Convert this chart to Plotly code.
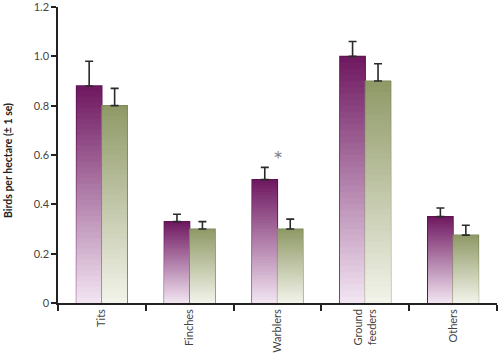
import plotly.graph_objects as go

categories = ["Tits", "Finches", "Warblers", "Ground<br>feeders", "Others"]
purple_values = [0.88, 0.33, 0.50, 1.00, 0.35]
purple_errors = [0.10, 0.03, 0.05, 0.06, 0.035]
green_values = [0.80, 0.30, 0.30, 0.90, 0.275]
green_errors = [0.07, 0.03, 0.04, 0.07, 0.04]
y_ticks = [0, 0.2, 0.4, 0.6, 0.8, 1.0, 1.2]
y_ticktext = ["0", "0.2", "0.4", "0.6", "0.8", "1.0", "1.2"]
y_title = "Birds per hectare (± 1 se)"

N_BANDS = 40
BAR_W = 0.29


def lerp(c1, c2, t):
    return "rgb(%d,%d,%d)" % tuple(round(a + (b - a) * t) for a, b in zip(c1, c2))


def add_gradient_bars(fig, values, errors, offset, dark, light, edge):
    fig.add_trace(go.Bar(
        x=categories, y=values, offset=offset, width=BAR_W,
        marker=dict(color=lerp(dark, light, 0.0), line=dict(color=edge, width=1.2)),
        error_y=dict(type="data", symmetric=False, array=errors,
                     arrayminus=[0] * len(errors), color="#2a2a2a",
                     thickness=1.6, width=4),
        hoverinfo="skip", showlegend=False,
    ))
    for k in range(N_BANDS - 1, 0, -1):
        frac = k / N_BANDS
        t = 1 - frac
        fig.add_trace(go.Bar(
            x=categories, y=[v * frac for v in values], offset=offset + 0.005,
            width=BAR_W - 0.01,
            marker=dict(color=lerp(dark, light, t), line=dict(width=0)),
            hoverinfo="skip", showlegend=False,
        ))


fig = go.Figure()
add_gradient_bars(fig, purple_values, purple_errors, -BAR_W,
                  (112, 26, 98), (244, 232, 244), "#5e1552")
add_gradient_bars(fig, green_values, green_errors, 0.0,
                  (144, 154, 104), (244, 245, 236), "#7f8a5a")

fig.add_annotation(x="Warblers", y=0.585, text="*", showarrow=False,
                   font=dict(size=24, color="#888888"), xanchor="center",
                   yanchor="middle")

fig.add_annotation(xref="paper", yref="paper", x=-0.114, y=0.483,
                   text="<b>" + y_title + "</b>", textangle=-90, showarrow=False,
                   xanchor="center", yanchor="middle",
                   font=dict(size=10.5, color="#222222"))

fig.update_layout(
    width=500, height=358,
    margin=dict(l=58, r=3, t=7, b=55),
    paper_bgcolor="white", plot_bgcolor="white",
    barmode="overlay",
    font=dict(family="Lato, Open Sans, sans-serif", color="#444444"),
    xaxis=dict(
        automargin=False,
        showline=True, linecolor="#222222", linewidth=1.5,
        ticks="outside", tickson="boundaries", ticklen=6, tickwidth=1.5,
        tickcolor="#222222", tickangle=-90, tickfont=dict(size=11, color="#444444"),
        showgrid=False, zeroline=False,
    ),
    yaxis=dict(
        automargin=False, ticklabeloverflow="allow",
        range=[0, 1.2], tickvals=y_ticks, ticktext=y_ticktext,
        showline=True, linecolor="#222222", linewidth=1.5,
        ticks="outside", ticklen=5, tickwidth=1.5, tickcolor="#222222",
        tickfont=dict(size=11, color="#444444"),
        showgrid=False, zeroline=False,
    ),
)

fig.write_html("out.html", config={"displayModeBar": False},
               post_script="document.body.style.margin='0';")
